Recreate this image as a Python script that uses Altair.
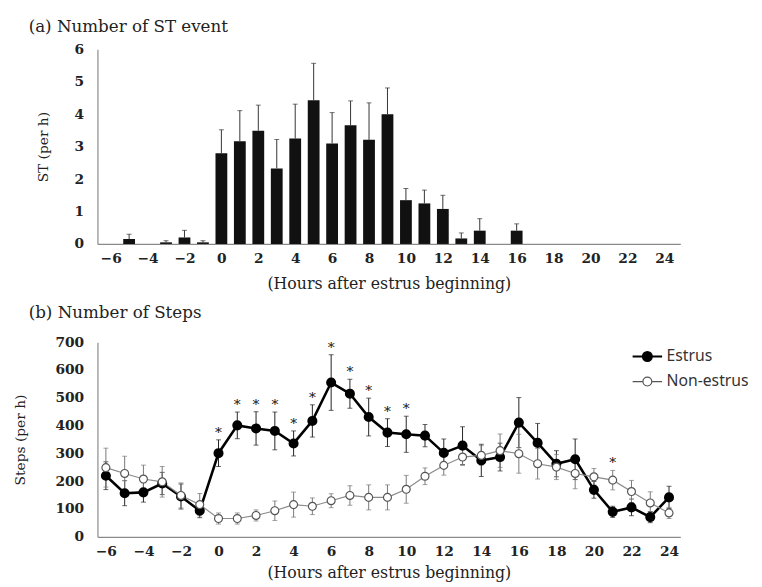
import altair as alt
import pandas as pd

# ---------- (a) ST events ----------
st_hours = [-5, -3, -2, -1, 0, 1, 2, 3, 4, 5, 6, 7, 8, 9, 10, 11, 12, 13, 14, 16]
st_mean = [0.15, 0.05, 0.2, 0.05, 2.8, 3.17, 3.49, 2.33, 3.25, 4.43, 3.1, 3.66,
           3.21, 4.0, 1.35, 1.25, 1.08, 0.17, 0.41, 0.41]
st_err = [0.15, 0.05, 0.22, 0.05, 0.72, 0.94, 0.79, 0.89, 1.06, 1.14, 0.95, 0.75,
          1.14, 0.81, 0.36, 0.41, 0.42, 0.17, 0.37, 0.21]

# ---------- (b) Steps ----------
hours = list(range(-6, 25))
estrus = [220, 157, 160, 192, 145, 94, 301, 401, 390, 381, 336, 417, 555, 515, 431,
          375, 369, 364, 302, 328, 275, 287, 411, 338, 263, 279, 169, 90, 106, 71, 142]
estrus_err = [50, 45, 35, 40, 45, 25, 48, 48, 60, 68, 45, 58, 100, 52, 68,
              50, 65, 40, 50, 68, 58, 50, 90, 70, 47, 73, 30, 20, 30, 20, 40]
non_estrus = [249, 228, 208, 198, 149, 116, 66, 66, 77, 94, 116, 110, 130, 149, 142,
              142, 171, 218, 257, 287, 293, 310, 299, 263, 251, 228, 216, 204, 163, 122, 86]
non_err = [70, 62, 50, 55, 45, 40, 20, 20, 20, 35, 45, 30, 25, 35, 45,
           45, 50, 30, 35, 30, 35, 60, 70, 55, 45, 55, 30, 35, 40, 40, 20]
sig_hours = [0, 1, 2, 3, 4, 5, 6, 7, 8, 9, 10, 21]

x_ticks = list(range(-6, 25, 2))
SERIF = "DejaVu Serif"
W, H = 593, 198


def x_axis(pad):
    return alt.Axis(values=x_ticks, tickCount=40, format="d",
                    title="(Hours after estrus beginning)",
                    labelOverlap=False, labelFlush=False, titlePadding=pad)


st_df = pd.DataFrame({"hour": st_hours, "mean": st_mean, "err": st_err})
st_df["hi"] = st_df["mean"] + st_df["err"]

xa = alt.X("hour:Q", scale=alt.Scale(domain=[-6.45, 24.6], nice=False, zero=False),
           axis=x_axis(10))

bars = alt.Chart(st_df).mark_bar(color="#111111", size=12).encode(
    x=xa,
    y=alt.Y("mean:Q", scale=alt.Scale(domain=[0, 6]),
            axis=alt.Axis(values=list(range(0, 7)), tickCount=20, format="d",
                          title="ST (per h)", titlePadding=24, labelOverlap=False,
                          labelPadding=14)),
)
st_rule = alt.Chart(st_df).mark_rule(color="#333333", strokeWidth=1).encode(
    x="hour:Q", y="mean:Q", y2="hi:Q")
st_cap = alt.Chart(st_df).mark_tick(color="#333333", orient="horizontal", size=5,
                                     thickness=1).encode(x="hour:Q", y="hi:Q")

top = alt.layer(bars, st_rule, st_cap).properties(
    width=W, height=H,
    title=alt.TitleParams("(a)  Number of ST event", anchor="start", frame="group",
                          dx=-70, offset=7, font=SERIF, fontSize=17,
                          fontWeight="normal", color="#222222"),
)

rows = []
for h, e, ee, n, ne in zip(hours, estrus, estrus_err, non_estrus, non_err):
    rows.append({"hour": h, "series": "Estrus", "val": e, "lo": e - ee, "hi": e + ee})
    rows.append({"hour": h, "series": "Non-estrus", "val": n, "lo": n - ne, "hi": n + ne})
steps = pd.DataFrame(rows)
est = steps[steps.series == "Estrus"]
non = steps[steps.series == "Non-estrus"]

sig = pd.DataFrame({"hour": sig_hours})
sig["top"] = [max(e + ee, n + ne) for h, e, ee, n, ne in
              zip(hours, estrus, estrus_err, non_estrus, non_err) if h in sig_hours]

xb = alt.X("hour:Q", scale=alt.Scale(domain=[-6.45, 24.6], nice=False, zero=False),
           axis=x_axis(6))
yb = alt.Y("val:Q", scale=alt.Scale(domain=[0, 700]),
           axis=alt.Axis(values=list(range(0, 701, 100)), tickCount=20, format="d",
                         title="Steps (per h)", titlePadding=28, labelOverlap=False,
                         labelPadding=14))


def errbars(df, color):
    r = alt.Chart(df).mark_rule(color=color, strokeWidth=1).encode(
        x="hour:Q", y="lo:Q", y2="hi:Q")
    c1 = alt.Chart(df).mark_tick(color=color, orient="horizontal", size=5,
                                 thickness=1).encode(x="hour:Q", y="hi:Q")
    c2 = alt.Chart(df).mark_tick(color=color, orient="horizontal", size=5,
                                 thickness=1).encode(x="hour:Q", y="lo:Q")
    return r + c1 + c2


est_line = alt.Chart(est).mark_line(color="#000000", strokeWidth=2.6).encode(x=xb, y=yb)
non_line = alt.Chart(non).mark_line(color="#8a8a8a", strokeWidth=1.2).encode(x=xb, y=yb)

legend_path = ("M-1,0L-0.3,0M0.3,0L1,0"
               "M-0.3,0A0.3,0.3,0,1,1,0.3,0A0.3,0.3,0,1,1,-0.3,0Z")
leg = alt.Legend(title=None, orient="none", legendX=543, legendY=-2,
                 symbolType=legend_path, symbolSize=900, labelFont="Noto Sans",
                 labelFontSize=16, labelColor="#333333", rowPadding=-10,
                 labelOffset=3, symbolStrokeWidth=1.5, labelOverlap=False)
dom = ["Estrus", "Non-estrus"]
pts = alt.Chart(steps).mark_point(opacity=1, size=65, filled=False).encode(
    x="hour:Q", y="val:Q",
    fill=alt.Fill("series:N", scale=alt.Scale(domain=dom, range=["#000000", "#ffffff"]),
                  legend=leg),
    stroke=alt.Stroke("series:N", scale=alt.Scale(domain=dom, range=["#000000", "#555555"]),
                      legend=leg),
    strokeWidth=alt.StrokeWidth("series:N", scale=alt.Scale(domain=dom, range=[2.2, 1.2]),
                                legend=leg),
    order=alt.Order("series:N", sort="ascending"),
)

stars = alt.Chart(sig).mark_text(text="*", font=SERIF, fontSize=14, fontWeight="normal",
                                  color="#111111", baseline="middle", dy=-7).encode(
    x="hour:Q", y="top:Q")

bottom = alt.layer(errbars(est, "#222222"), errbars(non, "#777777"),
                   est_line, non_line, pts, stars).properties(
    width=W, height=H,
    title=alt.TitleParams("(b)  Number of Steps", anchor="start", frame="group",
                          dx=-70, offset=14, font=SERIF, fontSize=17,
                          fontWeight="normal", color="#222222"),
)

chart = alt.vconcat(top, bottom, spacing=13).resolve_legend(
    fill="independent", stroke="independent", strokeWidth="independent"
).resolve_scale(
    fill="independent", stroke="independent", strokeWidth="independent"
).configure_view(stroke=None).configure_axis(
    grid=False, ticks=False, domainColor="#8a8a8a", domainWidth=1.2,
    labelFont=SERIF, labelFontSize=14, labelFontWeight="bold", labelColor="#222222",
    labelPadding=8, titleFont=SERIF, titleFontSize=16,
    titleFontWeight="normal", titleColor="#222222",
).configure_axisY(titleFontSize=14)

chart.save("out.html", embed_options={"renderer": "svg", "actions": False})
